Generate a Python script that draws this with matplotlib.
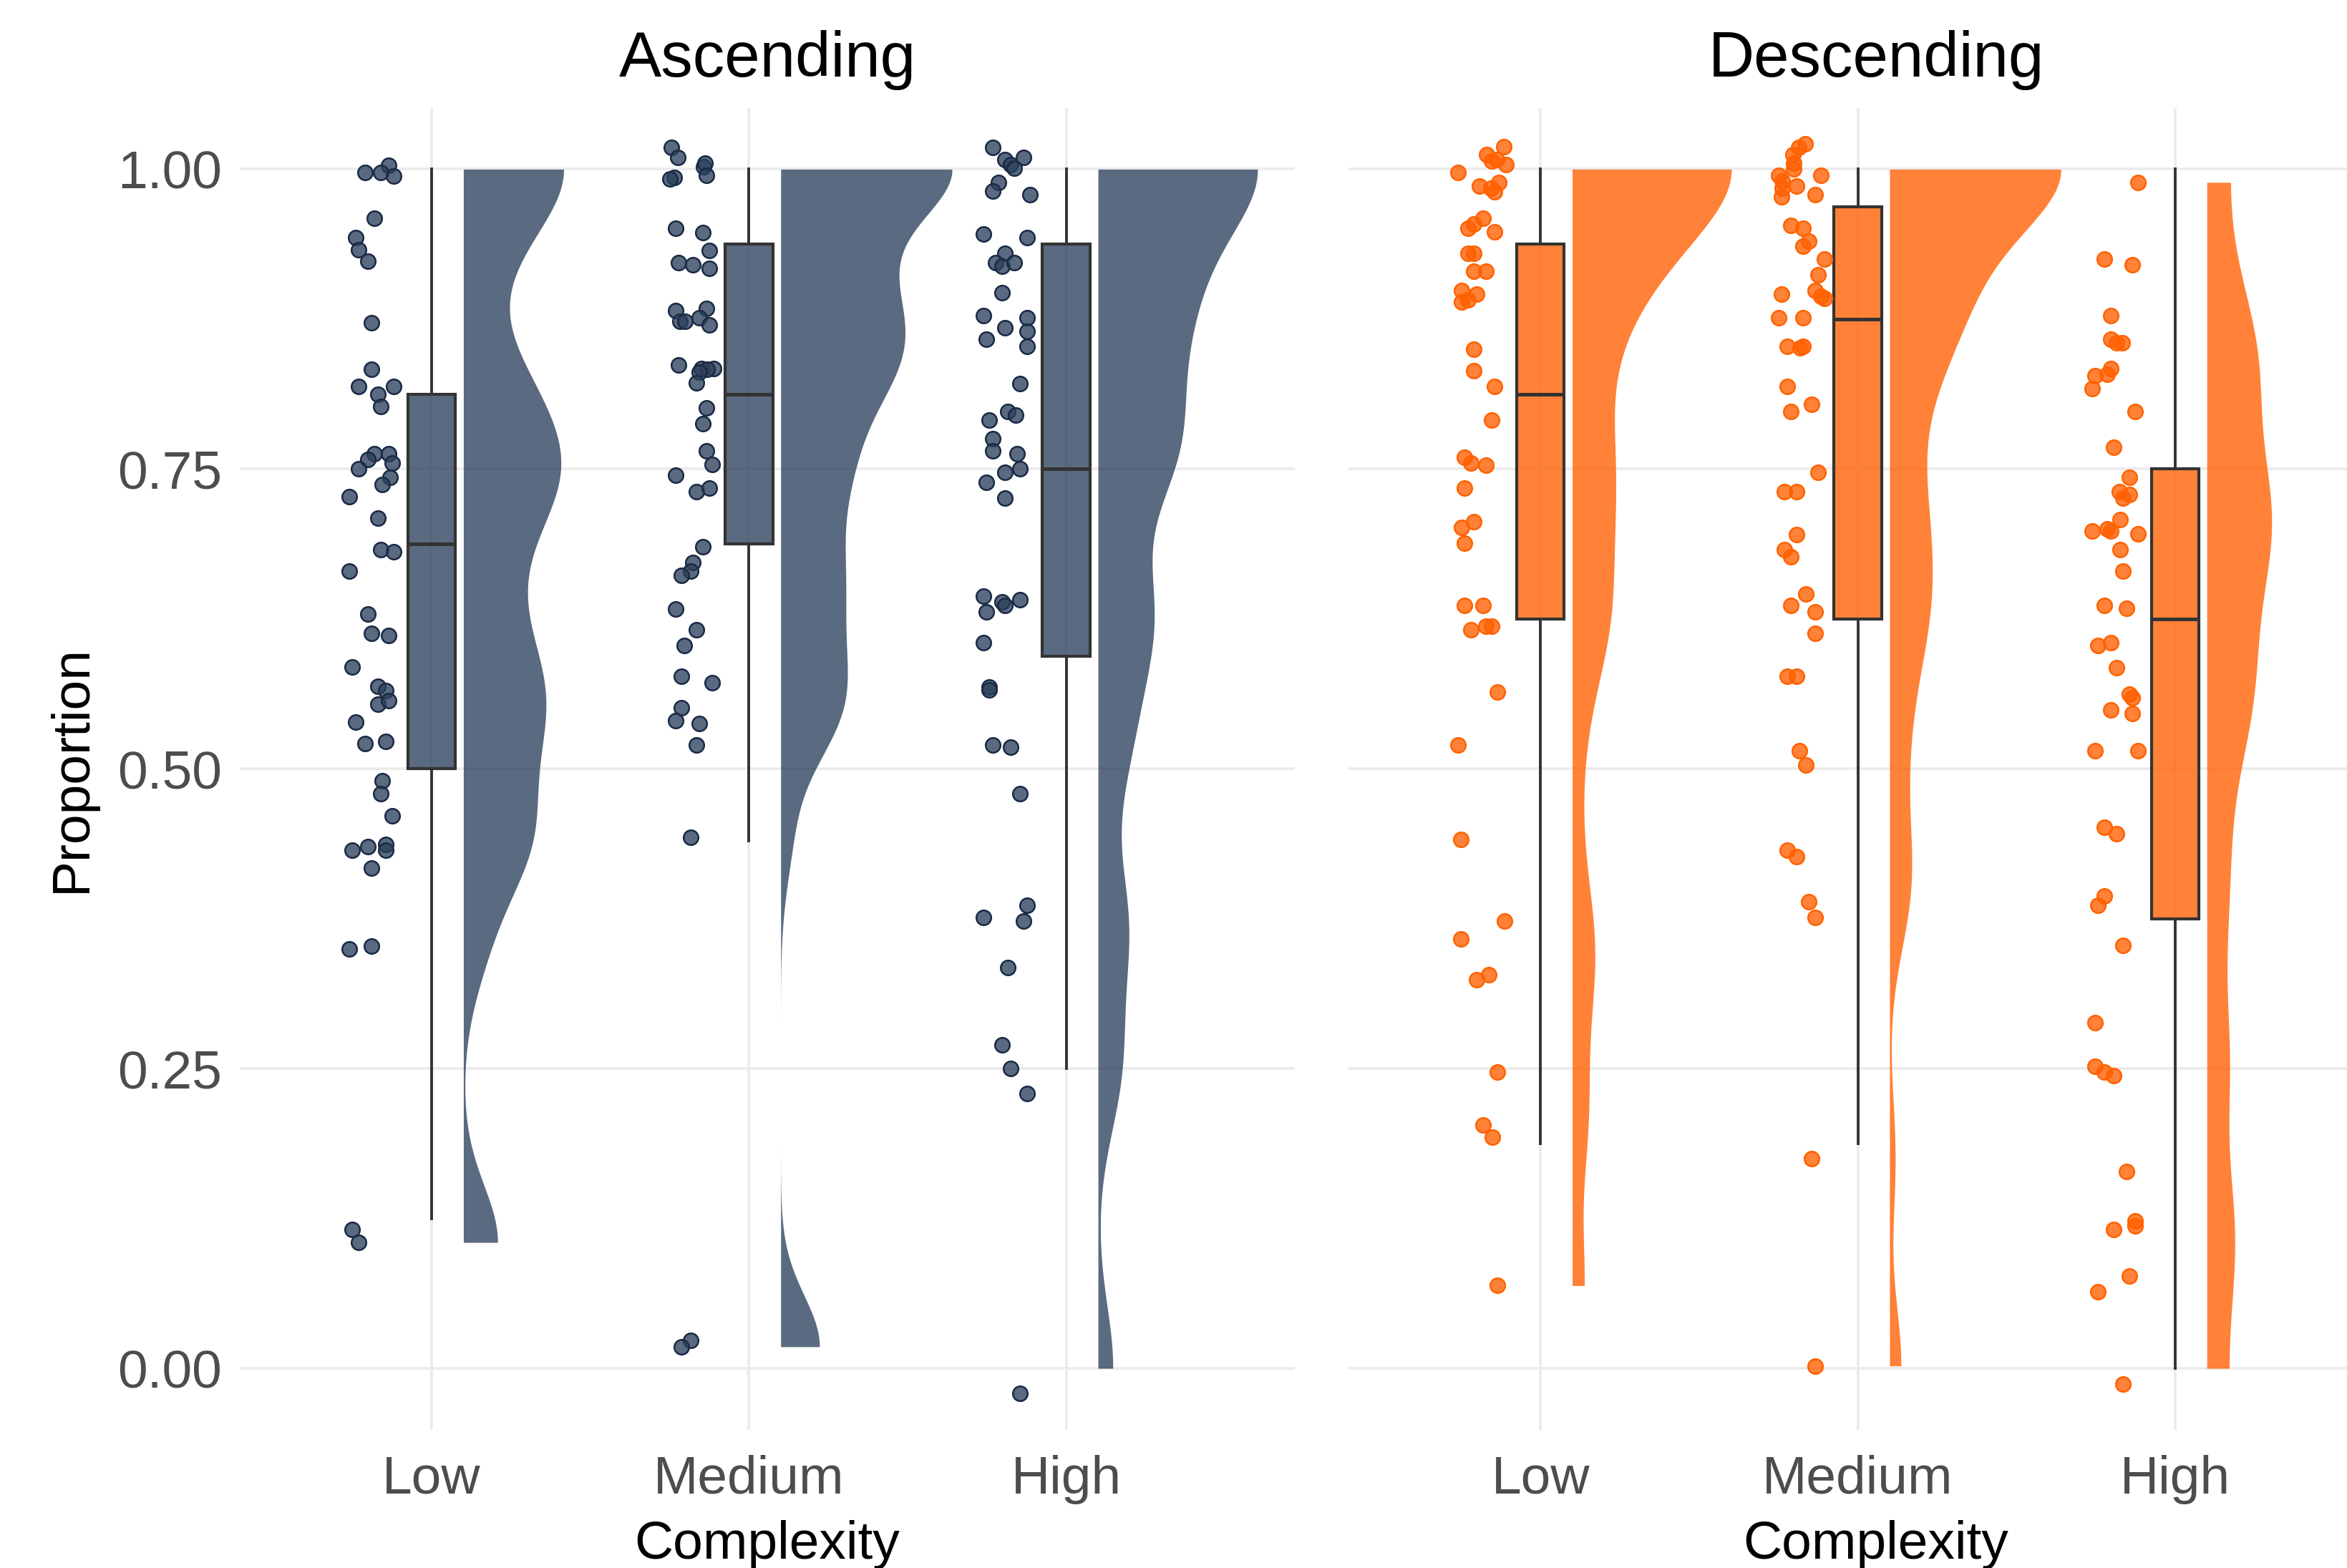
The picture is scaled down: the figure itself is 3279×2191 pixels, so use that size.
import numpy as np
import matplotlib.pyplot as plt
from matplotlib.colors import to_rgba

plt.rcParams['font.family'] = ['Liberation Sans', 'DejaVu Sans']

panels = ['Ascending', 'Descending']
levels = ['Low', 'Medium', 'High']
fills = {'Ascending': '#2C405C', 'Descending': '#FF5F00'}
edges = {'Ascending': '#1B2A45', 'Descending': '#FF6200'}

# jittered points: proportion and horizontal offset from the category centre
asc_low_y = [0.997, 1.003, 0.997, 0.994, 0.959, 0.943, 0.933, 0.923, 0.872, 0.833,
             0.819, 0.819, 0.812, 0.802, 0.763, 0.763, 0.758, 0.750, 0.755, 0.743,
             0.737, 0.727, 0.709, 0.683, 0.681, 0.665, 0.629, 0.613, 0.611, 0.585,
             0.569, 0.565, 0.554, 0.557, 0.539, 0.521, 0.523, 0.490, 0.479, 0.461,
             0.432, 0.435, 0.437, 0.432, 0.417, 0.350, 0.352, 0.116, 0.105]
asc_low_dx = [-0.21, -0.135, -0.16, -0.12, -0.18, -0.24, -0.23, -0.20, -0.19, -0.19,
              -0.23, -0.12, -0.17, -0.16, -0.18, -0.135, -0.20, -0.23, -0.125, -0.13,
              -0.155, -0.26, -0.17, -0.16, -0.12, -0.26, -0.20, -0.19, -0.135, -0.25,
              -0.17, -0.145, -0.17, -0.135, -0.24, -0.21, -0.145, -0.155, -0.16, -0.125,
              -0.25, -0.20, -0.145, -0.145, -0.19, -0.26, -0.19, -0.25, -0.23]

asc_med_y = [1.018, 1.010, 1.002, 1.005, 0.995, 0.993, 0.992, 0.951, 0.947, 0.932,
             0.922, 0.920, 0.917, 0.884, 0.882, 0.876, 0.873, 0.873, 0.870, 0.837,
             0.834, 0.834, 0.833, 0.831, 0.822, 0.801, 0.788, 0.765, 0.754, 0.745,
             0.731, 0.734, 0.685, 0.672, 0.665, 0.661, 0.633, 0.616, 0.603, 0.577,
             0.572, 0.551, 0.540, 0.538, 0.520, 0.443, 0.023, 0.018]
asc_med_dx = [-0.244, -0.225, -0.142, -0.139, -0.135, -0.236, -0.248, -0.232, -0.146, -0.126,
              -0.223, -0.176, -0.126, -0.135, -0.232, -0.157, -0.217, -0.202, -0.126, -0.223,
              -0.150, -0.112, -0.131, -0.157, -0.165, -0.135, -0.146, -0.135, -0.116, -0.232,
              -0.165, -0.126, -0.146, -0.176, -0.184, -0.214, -0.232, -0.165, -0.204, -0.214,
              -0.116, -0.214, -0.232, -0.156, -0.165, -0.184, -0.184, -0.214]

asc_high_y = [1.018, 1.008, 1.004, 1.001, 1.010, 0.989, 0.982, 0.979, 0.946, 0.943,
              0.930, 0.922, 0.919, 0.922, 0.897, 0.878, 0.868, 0.876, 0.865, 0.858,
              0.852, 0.821, 0.798, 0.795, 0.791, 0.775, 0.765, 0.763, 0.750, 0.747,
              0.739, 0.726, 0.644, 0.631, 0.639, 0.636, 0.641, 0.605, 0.568, 0.566,
              0.520, 0.518, 0.479, 0.386, 0.376, 0.373, 0.334, 0.270, 0.250, 0.229,
              -0.021]
asc_high_dx = [-0.232, -0.194, -0.175, -0.164, -0.134, -0.213, -0.232, -0.115, -0.260, -0.124,
               -0.194, -0.222, -0.202, -0.164, -0.203, -0.260, -0.194, -0.124, -0.124, -0.251,
               -0.124, -0.145, -0.184, -0.160, -0.242, -0.232, -0.232, -0.154, -0.145, -0.194,
               -0.251, -0.194, -0.260, -0.251, -0.203, -0.194, -0.145, -0.260, -0.242, -0.242,
               -0.232, -0.175, -0.145, -0.124, -0.260, -0.134, -0.184, -0.203, -0.175, -0.124,
               -0.145]

desc_low_y = [1.019, 1.012, 1.008, 1.004, 1.007, 0.997, 0.989, 0.986, 0.984, 0.981,
              0.959, 0.954, 0.951, 0.948, 0.930, 0.930, 0.915, 0.915, 0.899, 0.896,
              0.891, 0.889, 0.850, 0.832, 0.819, 0.791, 0.760, 0.755, 0.753, 0.734,
              0.701, 0.706, 0.688, 0.636, 0.636, 0.619, 0.616, 0.619, 0.564, 0.520,
              0.441, 0.373, 0.358, 0.324, 0.328, 0.247, 0.203, 0.193, 0.069]
desc_low_dx = [-0.116, -0.169, -0.138, -0.108, -0.153, -0.260, -0.131, -0.193, -0.157, -0.146,
               -0.182, -0.210, -0.229, -0.144, -0.229, -0.210, -0.210, -0.172, -0.248, -0.202,
               -0.229, -0.248, -0.210, -0.210, -0.144, -0.153, -0.240, -0.220, -0.172, -0.240,
               -0.248, -0.210, -0.240, -0.240, -0.182, -0.172, -0.220, -0.153, -0.135, -0.260,
               -0.250, -0.114, -0.250, -0.202, -0.163, -0.135, -0.182, -0.152, -0.135]

desc_med_y = [1.021, 1.018, 1.012, 1.005, 1.000, 0.995, 0.995, 0.990, 0.986, 0.984,
              0.979, 0.977, 0.953, 0.951, 0.940, 0.936, 0.925, 0.912, 0.899, 0.896,
              0.894, 0.892, 0.876, 0.876, 0.852, 0.852, 0.851, 0.819, 0.798, 0.804,
              0.747, 0.731, 0.731, 0.695, 0.683, 0.677, 0.646, 0.636, 0.631, 0.613,
              0.577, 0.577, 0.515, 0.503, 0.432, 0.427, 0.389, 0.376, 0.175, 0.002]
desc_med_dx = [-0.167, -0.186, -0.205, -0.201, -0.201, -0.250, -0.116, -0.239, -0.193, -0.239,
               -0.135, -0.240, -0.212, -0.173, -0.154, -0.173, -0.106, -0.126, -0.135, -0.240,
               -0.116, -0.106, -0.250, -0.173, -0.222, -0.173, -0.182, -0.222, -0.212, -0.145,
               -0.126, -0.231, -0.193, -0.193, -0.231, -0.212, -0.163, -0.212, -0.135, -0.135,
               -0.222, -0.193, -0.184, -0.163, -0.222, -0.193, -0.154, -0.135, -0.145, -0.135]

desc_high_y = [0.989, 0.925, 0.920, 0.878, 0.858, 0.855, 0.855, 0.834, 0.829, 0.828,
               0.817, 0.798, 0.768, 0.743, 0.731, 0.729, 0.726, 0.708, 0.700, 0.698,
               0.698, 0.696, 0.683, 0.665, 0.636, 0.634, 0.605, 0.603, 0.584, 0.562,
               0.559, 0.549, 0.546, 0.515, 0.515, 0.451, 0.446, 0.394, 0.386, 0.353,
               0.288, 0.252, 0.247, 0.244, 0.164, 0.123, 0.119, 0.116, 0.077, 0.064,
               -0.013]
desc_high_dx = [-0.116, -0.223, -0.135, -0.203, -0.203, -0.184, -0.166, -0.203, -0.213, -0.252,
                -0.261, -0.125, -0.193, -0.145, -0.175, -0.145, -0.164, -0.174, -0.213, -0.261,
                -0.203, -0.116, -0.174, -0.164, -0.223, -0.154, -0.203, -0.243, -0.184, -0.145,
                -0.135, -0.203, -0.135, -0.252, -0.116, -0.223, -0.184, -0.223, -0.243, -0.164,
                -0.252, -0.252, -0.223, -0.193, -0.154, -0.125, -0.125, -0.193, -0.145, -0.243,
                -0.164]

# box summaries: lower whisker, q1, median, q3, upper whisker
asc_box = [[0.125, 0.5, 0.6875, 0.8125, 1.0],
           [0.44, 0.6875, 0.8125, 0.9375, 1.0],
           [0.25, 0.59375, 0.75, 0.9375, 1.0]]
desc_box = [[0.1875, 0.625, 0.8125, 0.9375, 1.0],
            [0.1875, 0.625, 0.875, 0.96875, 1.0],
            [0.0, 0.375, 0.625, 0.75, 1.0]]

points = {
    'Ascending': [(asc_low_y, asc_low_dx), (asc_med_y, asc_med_dx), (asc_high_y, asc_high_dx)],
    'Descending': [(desc_low_y, desc_low_dx), (desc_med_y, desc_med_dx), (desc_high_y, desc_high_dx)],
}
boxes = {'Ascending': asc_box, 'Descending': desc_box}


def kde(vals, adjust=0.52, n=600):
    # bounded density: reflected at the data range (kept inside 0..1)
    v = np.asarray(vals)
    iqr = np.subtract(*np.percentile(v, [75, 25]))
    bw = 0.9 * min(v.std(ddof=1), iqr / 1.34) * len(v) ** -0.2 * adjust
    lo, hi = max(v.min(), 0), min(v.max(), 1)
    v = np.clip(v, lo, hi)
    grid = np.linspace(lo, hi, n)
    src = np.concatenate([v, 2 * lo - v, 2 * hi - v])
    d = np.exp(-0.5 * ((grid[:, None] - src[None, :]) / bw) ** 2).sum(1)
    return grid, d / (len(v) * bw * np.sqrt(2 * np.pi))


fig = plt.figure(figsize=(16.4, 10.955), dpi=200)
ax1 = fig.add_axes([0.1021, 0.0881, 0.4494, 0.843])
ax2 = fig.add_axes([0.5744, 0.0881, 0.4494, 0.843])

for ax, panel in zip([ax1, ax2], panels):
    col = fills[panel]
    pos = np.arange(1, 4)

    dens = [kde(y) for y, _ in points[panel]]
    dmax = max(d.max() for _, d in dens)
    for p, (g, d) in zip(pos, dens):
        ax.fill_betweenx(g, p + 0.1, p + 0.1 + d / dmax * 0.54,
                         color=to_rgba(col, 0.78), lw=0, zorder=2)

    stats = [dict(whislo=b[0], q1=b[1], med=b[2], q3=b[3], whishi=b[4]) for b in boxes[panel]]
    ax.bxp(stats, positions=pos, widths=0.15, patch_artist=True,
           showfliers=False, showcaps=False,
           boxprops=dict(facecolor=to_rgba(col, 0.78), edgecolor='#333333', lw=1.5),
           whiskerprops=dict(color='#333333', lw=1.4),
           medianprops=dict(color='#333333', lw=1.8), zorder=3)

    for p, (y, dx) in zip(pos, points[panel]):
        ax.scatter(p + np.array(dx), y, s=55, facecolor=to_rgba(col, 0.78),
                   edgecolor=edges[panel], lw=0.9, zorder=4)

    ax.set_xlim(0.395, 3.72)
    ax.set_ylim(-0.0513, 1.051)
    ax.set_xticks(pos, levels)
    ax.set_yticks([0, 0.25, 0.5, 0.75, 1.0], ['0.00', '0.25', '0.50', '0.75', '1.00'])
    ax.grid(color='#EBEBEB', lw=1.3)
    ax.set_axisbelow(True)
    for s in ax.spines.values():
        s.set_visible(False)
    ax.tick_params(length=0, labelsize=27, labelcolor='#4D4D4D')
    ax.tick_params(axis='x', pad=12.5)
    ax.tick_params(axis='y', pad=9)
    ax.set_title(panel, fontsize=32, pad=16)
    ax.set_xlabel('Complexity', fontsize=27, labelpad=8)

ax1.set_ylabel('Proportion', fontsize=27, labelpad=10.5)
ax2.tick_params(labelleft=False)

fig.savefig('out.png', dpi=200)
